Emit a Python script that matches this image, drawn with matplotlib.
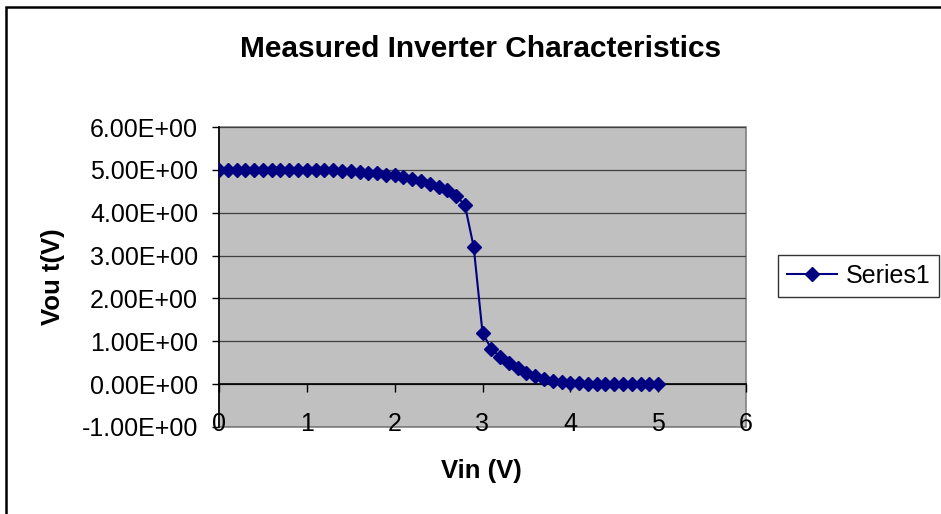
import matplotlib.pyplot as plt
from matplotlib.patches import Rectangle

plt.rcParams['font.family'] = ['Liberation Sans', 'DejaVu Sans']

# measured inverter transfer curve, Vin step 0.1 V
vin = [round(0.1 * i, 1) for i in range(51)]
vout = [5.00, 5.00, 5.00, 5.00, 5.00, 5.00, 5.00, 5.00, 5.00, 5.00,
        5.00, 5.00, 5.00, 4.99, 4.97, 4.97, 4.96, 4.93, 4.92, 4.88,
        4.87, 4.83, 4.78, 4.73, 4.68, 4.60, 4.53, 4.40, 4.17, 3.20,
        1.20, 0.82, 0.64, 0.49, 0.37, 0.27, 0.20, 0.13, 0.08, 0.04,
        0.03, 0.02, 0.01, 0.00, 0.00, 0.00, 0.00, 0.00, 0.00, 0.00,
        0.00]
x_ticks = [0, 1, 2, 3, 4, 5, 6]
y_ticks = [-1, 0, 1, 2, 3, 4, 5, 6]

W, H = 941, 514
fig = plt.figure(figsize=(W / 100, H / 100), dpi=100)
fig.patches.append(Rectangle((6 / W, -0.1), 1.2, 1.1 - 7 / H,
                             transform=fig.transFigure, fill=False,
                             edgecolor='black', linewidth=1.8))

ax = fig.add_axes([219 / W, 1 - 427 / H, 527 / W, 300 / H])
ax.set_facecolor('#C0C0C0')
ax.patch.set_edgecolor('#808080')
ax.patch.set_linewidth(1.2)

ax.plot(vin, vout, color='#000080', linewidth=1.5, marker='D',
        markersize=7, label='Series1', zorder=3)

ax.set_xlim(0, 6)
ax.set_ylim(-1, 6)
ax.set_xticks(x_ticks)
ax.set_yticks(y_ticks)
ax.set_yticklabels([f'{v:.2E}' for v in y_ticks])
ax.grid(axis='y', color='#404040', linewidth=0.9)
ax.set_axisbelow(True)

for side in ['top', 'right']:
    ax.spines[side].set_visible(False)
ax.spines['left'].set_color('black')
ax.spines['left'].set_linewidth(1.2)
ax.spines['bottom'].set_position(('data', 0))
ax.spines['bottom'].set_color('black')
ax.spines['bottom'].set_linewidth(1.2)

ax.tick_params(axis='x', direction='out', length=6, width=1, pad=14, labelsize=18)
ax.tick_params(axis='y', direction='out', length=5, width=1, pad=10, labelsize=18)

fig.text(481 / W, 1 - 57 / H, 'Measured Inverter Characteristics',
         fontsize=21.5, fontweight='bold', ha='center', va='baseline')
fig.text(481 / W, 1 - 478 / H, 'Vin (V)', fontsize=18.5, fontweight='bold',
         ha='center', va='baseline')
fig.text(53 / W, 1 - 277 / H, 'Vou t(V)', fontsize=18.5, fontweight='bold',
         rotation=90, ha='center', va='center')

ax.legend(loc='upper left', bbox_to_anchor=(778 / W, 1 - 255 / H),
          bbox_transform=fig.transFigure, frameon=True, fancybox=False,
          edgecolor='black', fontsize=18, handlelength=2.0,
          handletextpad=0.35, borderpad=0.35, borderaxespad=0)

fig.savefig('out.png', dpi=100)
